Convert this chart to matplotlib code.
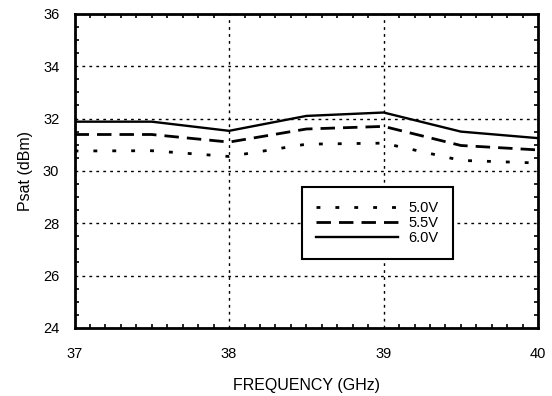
import matplotlib.pyplot as plt
from matplotlib.ticker import MultipleLocator

plt.rcParams['font.family'] = ['Liberation Sans', 'DejaVu Sans']

# saturated output power vs frequency, per supply voltage
freq = [37.0, 37.5, 38.0, 38.5, 39.0, 39.5, 40.0]
psat_50 = [30.76, 30.77, 30.55, 31.02, 31.06, 30.40, 30.30]
psat_55 = [31.39, 31.39, 31.10, 31.60, 31.70, 30.97, 30.80]
psat_60 = [31.88, 31.88, 31.53, 32.10, 32.23, 31.50, 31.25]
labels = ['5.0V', '5.5V', '6.0V']

fig = plt.figure(figsize=(5.52, 3.96), dpi=100)
ax = fig.add_axes([0.135, 0.172, 0.840, 0.793])

ax.plot(freq, psat_50, color='black', lw=2.0, linestyle=(0, (1.4, 5.4)), label=labels[0])
ax.plot(freq, psat_55, color='black', lw=2.0, linestyle=(0, (5.2, 2.9)), label=labels[1])
ax.plot(freq, psat_60, color='black', lw=1.7, linestyle='-', label=labels[2])

ax.set_xlim(37, 40)
ax.set_ylim(24, 36)
ax.xaxis.set_major_locator(MultipleLocator(1))
ax.xaxis.set_minor_locator(MultipleLocator(0.1))
ax.yaxis.set_major_locator(MultipleLocator(2))
ax.yaxis.set_minor_locator(MultipleLocator(0.5))
ax.tick_params(which='both', direction='in', top=True, right=True, color='black')
ax.tick_params(which='major', length=0, labelsize=10.5)
ax.tick_params(axis='x', which='major', pad=14)
ax.tick_params(axis='y', which='major', pad=11)
ax.tick_params(which='minor', length=3, width=1.2)
ax.grid(True, which='major', color='black', linestyle=(0, (2, 3)), lw=1.0)

for s in ax.spines.values():
    s.set_linewidth(2.0)

ax.set_xlabel('FREQUENCY (GHz)', fontsize=11.5, labelpad=12)
ax.set_ylabel('Psat (dBm)', fontsize=11.5, labelpad=7)

leg = ax.legend(loc='upper left', bbox_to_anchor=(0.49, 0.45),
                fontsize=10.5, handlelength=5.6, handletextpad=0.7,
                labelspacing=0.05, borderpad=1.0, borderaxespad=0,
                fancybox=False, framealpha=1, edgecolor='black')
leg.get_frame().set_linewidth(1.5)

fig.savefig('out.png', dpi=100)
